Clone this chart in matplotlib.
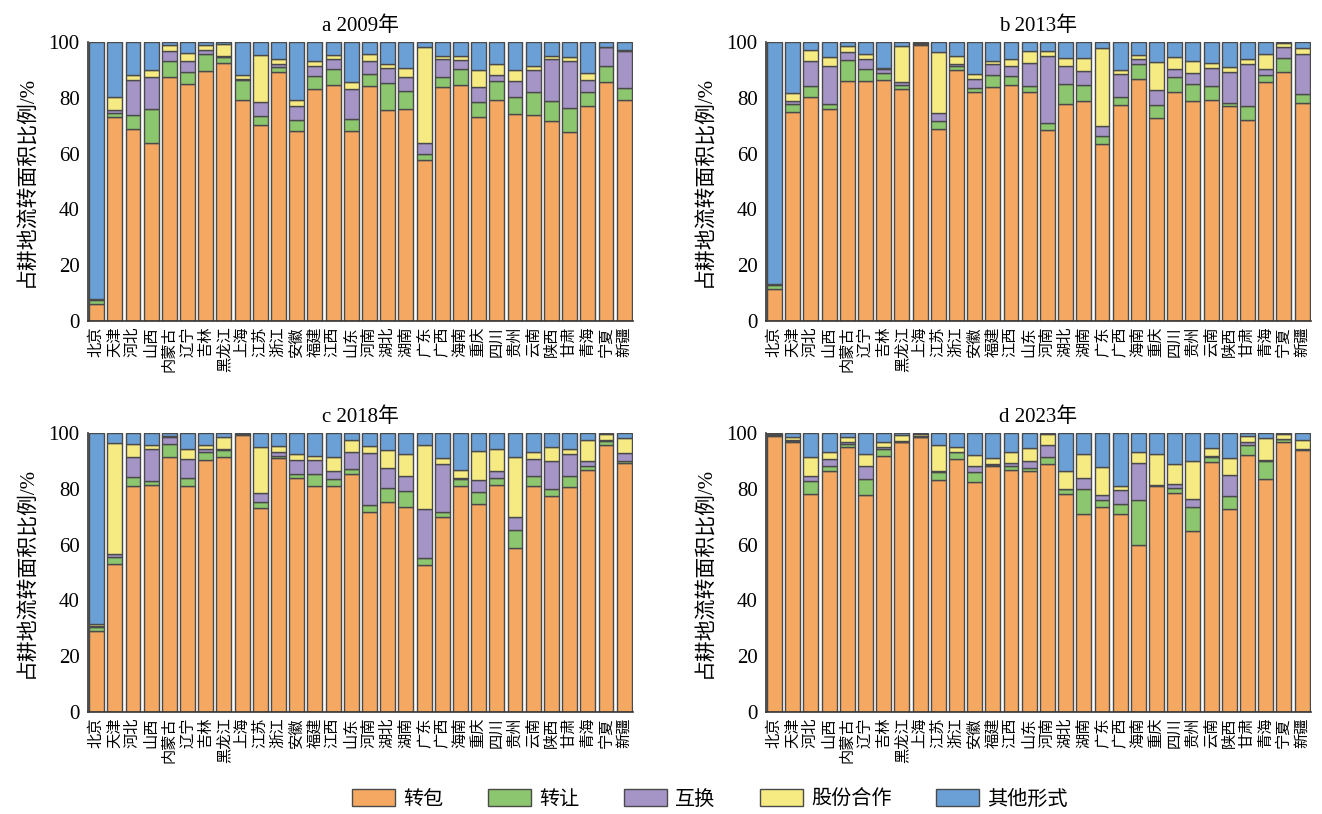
import matplotlib
matplotlib.use('Agg')
import matplotlib.pyplot as plt
from matplotlib.patches import Patch
import numpy as np

provinces = ['北京', '天津', '河北', '山西', '内蒙古', '辽宁', '吉林', '黑龙江', '上海', '江苏',
             '浙江', '安徽', '福建', '江西', '山东', '河南', '湖北', '湖南', '广东', '广西',
             '海南', '重庆', '四川', '贵州', '云南', '陕西', '甘肃', '青海', '宁夏', '新疆']
forms = ['转包', '转让', '互换', '股份合作', '其他形式']
titles = ['a 2009年', 'b 2013年', 'c 2018年', 'd 2023年']

# 2009
zb_2009 = [6.2, 73.3, 68.9, 63.8, 87.5, 85.0, 89.5, 92.4, 79.2, 70.3, 89.3, 68.1, 83.2, 84.7, 68.0,
           84.4, 75.8, 76.0, 57.6, 83.8, 84.7, 73.0, 79.4, 74.3, 73.7, 71.6, 67.7, 77.2, 85.7, 79.1]
zr_2009 = [1.2, 1.4, 5.1, 12.2, 5.8, 4.3, 6.2, 2.1, 7.2, 3.3, 1.9, 4.0, 4.5, 5.6, 4.4,
           4.1, 9.4, 6.6, 2.4, 3.6, 5.6, 5.5, 6.5, 5.9, 8.3, 7.2, 8.7, 4.8, 5.6, 4.4]
hh_2009 = [0.3, 1.1, 12.5, 11.6, 3.7, 3.8, 1.4, 0.5, 0.4, 4.9, 0.9, 5.0, 3.8, 3.7, 10.8,
           4.8, 5.5, 4.9, 3.8, 6.5, 3.4, 5.4, 2.4, 5.7, 7.9, 15.1, 16.7, 4.5, 6.8, 13.2]
gf_2009 = [0.3, 4.5, 1.6, 2.5, 2.0, 3.0, 1.9, 4.4, 1.3, 16.8, 1.9, 2.0, 1.7, 1.3, 2.5,
           2.5, 1.4, 3.2, 34.4, 1.2, 1.4, 6.0, 3.8, 4.0, 1.6, 1.0, 1.4, 2.6, 0.3, 0.6]
qt_2009 = [92.0, 19.7, 11.9, 9.9, 1.0, 3.9, 1.0, 0.6, 11.9, 4.7, 6.0, 20.9, 6.8, 4.7, 14.3,
           4.2, 7.9, 9.3, 1.8, 4.9, 4.9, 10.1, 7.9, 10.1, 8.5, 5.1, 5.5, 10.9, 1.6, 2.7]

# 2013
zb_2013 = [11.3, 74.9, 80.3, 76.0, 85.9, 86.2, 86.5, 83.2, 99.0, 69.0, 90.1, 82.0, 83.9, 84.7, 82.3,
           68.6, 77.9, 78.8, 63.6, 77.3, 86.9, 72.8, 82.3, 78.8, 79.4, 77.2, 72.2, 85.7, 89.3, 78.2]
zr_2013 = [1.6, 2.9, 4.1, 1.8, 7.8, 4.1, 2.6, 1.5, 0.2, 2.6, 1.4, 1.5, 4.2, 3.0, 2.1,
           2.4, 7.1, 5.9, 2.6, 2.9, 5.2, 4.8, 5.2, 6.2, 4.7, 1.0, 4.8, 2.4, 5.0, 3.2]
hh_2013 = [0.3, 1.2, 8.9, 13.7, 2.7, 3.6, 1.2, 0.9, 0.2, 3.0, 0.6, 3.2, 4.2, 3.6, 8.3,
           24.2, 6.3, 4.8, 3.6, 8.3, 1.8, 5.1, 2.7, 3.9, 6.6, 11.1, 15.1, 2.2, 3.8, 14.4]
gf_2013 = [0.2, 2.7, 4.0, 3.0, 2.3, 1.8, 0.6, 13.1, 0.2, 21.8, 3.0, 1.8, 0.8, 2.7, 4.3,
           1.5, 3.0, 4.8, 28.1, 1.6, 1.6, 10.1, 4.4, 4.2, 1.8, 1.8, 1.8, 5.4, 1.5, 2.1]
qt_2013 = [86.6, 18.3, 2.7, 5.5, 1.3, 4.3, 9.1, 1.3, 0.4, 3.6, 4.9, 11.5, 6.9, 6.0, 3.0,
           3.3, 5.7, 5.7, 2.1, 9.9, 4.5, 7.2, 5.4, 6.9, 7.5, 8.9, 6.1, 4.3, 0.4, 2.1]

# 2018
zb_2018 = [28.9, 53.2, 80.9, 81.5, 91.4, 81.2, 90.4, 91.6, 99.4, 73.1, 91.0, 84.1, 81.2, 81.2, 85.4,
           71.9, 75.5, 73.7, 52.6, 69.9, 81.2, 74.7, 81.5, 59.0, 80.9, 77.3, 80.6, 86.9, 95.6, 89.2]
zr_2018 = [1.6, 2.4, 3.3, 1.5, 4.8, 2.9, 2.8, 2.2, 0.2, 2.4, 0.9, 1.2, 4.1, 2.3, 1.7,
           2.4, 4.8, 5.4, 2.8, 1.7, 2.3, 4.2, 2.6, 6.4, 3.6, 2.7, 3.9, 1.4, 1.6, 1.0]
hh_2018 = [0.4, 1.0, 7.4, 11.4, 2.6, 6.6, 1.1, 0.6, 0.1, 3.0, 1.2, 5.1, 5.1, 2.8, 6.3,
           18.5, 7.2, 5.7, 17.4, 17.3, 0.6, 4.4, 2.4, 4.5, 6.2, 10.2, 8.0, 1.9, 0.2, 2.6]
gf_2018 = [0.6, 39.8, 4.5, 1.2, 0.3, 3.7, 1.5, 4.2, 0.1, 16.5, 2.4, 2.1, 1.6, 5.0, 4.0,
           2.7, 6.3, 7.7, 23.0, 2.1, 2.8, 10.4, 7.8, 21.5, 2.5, 4.8, 1.8, 7.2, 2.4, 5.4]
qt_2018 = [68.5, 3.6, 3.9, 4.4, 0.9, 5.6, 4.2, 1.4, 0.2, 5.0, 4.5, 7.5, 8.0, 8.7, 2.6,
           4.5, 6.2, 7.5, 4.2, 9.0, 13.1, 6.3, 5.7, 8.6, 6.8, 5.0, 5.7, 2.6, 0.2, 1.8]

# 2023
zb_2023 = [99.0, 97.0, 78.1, 86.6, 95.2, 77.9, 91.9, 96.7, 98.6, 83.3, 90.8, 82.4, 88.1, 86.9, 86.3,
           89.0, 78.1, 71.0, 73.5, 71.0, 60.0, 81.1, 78.5, 65.1, 89.8, 72.8, 92.2, 83.6, 96.8, 93.8]
zr_2023 = [0.2, 0.3, 4.6, 1.8, 1.0, 5.6, 2.5, 0.3, 0.2, 2.7, 2.3, 3.6, 0.5, 1.2, 1.4,
           2.3, 1.8, 8.9, 2.4, 3.6, 15.9, 0.2, 1.8, 8.6, 1.6, 4.5, 3.4, 6.5, 1.2, 0.4]
hh_2023 = [0.1, 0.3, 2.1, 2.4, 0.5, 4.9, 0.5, 0.1, 0.1, 0.5, 0.3, 2.4, 0.4, 1.1, 2.5,
           4.3, 0.1, 4.2, 2.0, 5.1, 13.3, 0.2, 1.5, 2.8, 0.5, 7.8, 1.1, 0.2, 0.1, 0.2]
gf_2023 = [0.5, 1.0, 6.5, 2.3, 1.9, 4.1, 1.8, 2.1, 0.7, 9.1, 1.8, 3.8, 2.0, 4.2, 4.4,
           4.0, 6.5, 8.5, 9.9, 1.5, 4.0, 11.0, 7.1, 13.6, 2.7, 5.9, 2.3, 7.9, 1.6, 3.0]
qt_2023 = [0.2, 1.4, 8.7, 6.9, 1.4, 7.5, 3.3, 0.8, 0.4, 4.4, 4.8, 7.8, 9.0, 6.6, 5.4,
           0.4, 13.5, 7.4, 12.2, 18.8, 6.8, 7.5, 11.1, 9.9, 5.4, 9.0, 1.0, 1.8, 0.3, 2.6]

colors = ['#F4A862', '#8CC66E', '#A594C6', '#F5EB82', '#6AA0D6']
edge = '#4a4a4a'
serif_cjk = ['Liberation Serif', 'Noto Sans CJK SC']

plt.rcParams['font.family'] = serif_cjk
plt.rcParams['axes.unicode_minus'] = False

fig = plt.figure(figsize=(13.22, 8.14), dpi=100)

# axes boxes in figure fraction (left, bottom, width, height)
boxes = [(0.0666, 0.6057, 0.412, 0.3425),
         (0.5794, 0.6057, 0.412, 0.3425),
         (0.0666, 0.1253, 0.412, 0.3425),
         (0.5794, 0.1253, 0.412, 0.3425)]

data = [(zb_2009, zr_2009, hh_2009, gf_2009, qt_2009),
        (zb_2013, zr_2013, hh_2013, gf_2013, qt_2013),
        (zb_2018, zr_2018, hh_2018, gf_2018, qt_2018),
        (zb_2023, zr_2023, hh_2023, gf_2023, qt_2023)]

x = np.arange(len(provinces))
for box, title, series in zip(boxes, titles, data):
    ax = fig.add_axes(box)
    bottom = np.zeros(len(provinces))
    for vals, c in zip(series, colors):
        vals = np.array(vals)
        ax.bar(x, vals, bottom=bottom, width=0.82, color=c, edgecolor=edge, linewidth=1.0)
        bottom += vals
    ax.set_xlim(-0.47, 29.47)
    ax.set_ylim(0, 100)
    ax.set_yticks([0, 20, 40, 60, 80, 100])
    ax.tick_params(axis='y', labelsize=15, direction='in', length=0, pad=6)
    ax.set_xticks(x)
    ax.set_xticklabels(provinces, rotation=90, fontsize=11)
    ax.tick_params(axis='x', length=0, pad=4)
    for s in ['top', 'right']:
        ax.spines[s].set_visible(False)
    for s in ['left', 'bottom']:
        ax.spines[s].set_color('#333333')
        ax.spines[s].set_linewidth(1.2)
    ax.set_ylabel('占耕地流转面积比例/%', fontsize=15, labelpad=8)
    ax.set_title(title, fontsize=15, pad=8)

handles = [Patch(facecolor=c, edgecolor=edge, linewidth=1.0) for c in colors]
fig.legend(handles, forms, loc='center', bbox_to_anchor=(0.537, 0.018), ncol=5,
           frameon=False, fontsize=14.5, handlelength=2.15, handleheight=0.9,
           handletextpad=0.4, columnspacing=2.2)

fig.savefig('out.png', dpi=100)
